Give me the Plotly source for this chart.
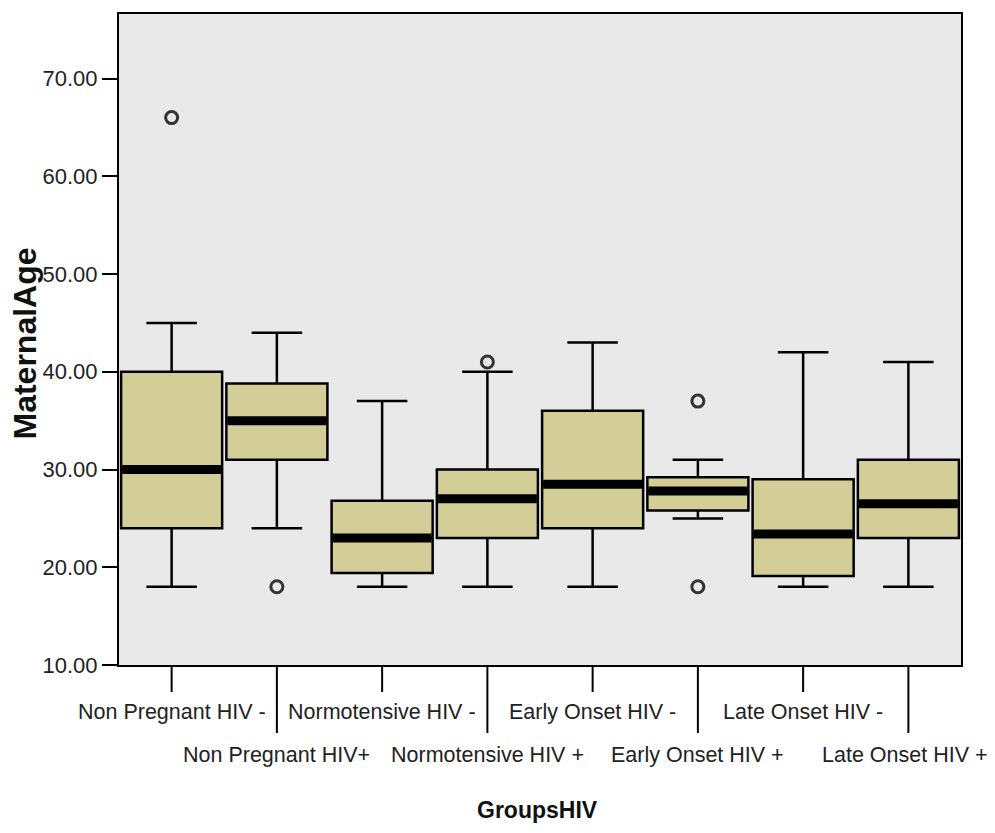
import plotly.graph_objects as go

# Maternal age by group (box statistics)
groups = [
    "Non Pregnant HIV -", "Non Pregnant HIV+",
    "Normotensive HIV -", "Normotensive HIV +",
    "Early Onset HIV -", "Early Onset HIV +",
    "Late Onset HIV -", "Late Onset HIV +",
]
lower_whisker = [18.0, 24.0, 18.0, 18.0, 18.0, 25.0, 18.0, 18.0]
q1_values     = [24.0, 31.0, 19.4, 23.0, 24.0, 25.8, 19.1, 23.0]
median_values = [30.0, 35.0, 23.0, 27.0, 28.5, 27.8, 23.4, 26.5]
q3_values     = [40.0, 38.8, 26.8, 30.0, 36.0, 29.2, 29.0, 31.0]
upper_whisker = [45.0, 44.0, 37.0, 40.0, 43.0, 31.0, 42.0, 41.0]

# Outlying cases
outlier_groups = ["Non Pregnant HIV -", "Non Pregnant HIV+", "Normotensive HIV +",
                  "Early Onset HIV +", "Early Onset HIV +"]
outlier_values = [66.0, 18.0, 41.0, 37.0, 18.0]

y_ticks = [10, 20, 30, 40, 50, 60, 70]

FONT = "Liberation Sans, Arial, sans-serif"
BOX_FILL = "#d3ce98"
PLOT_BG = "#e9e9e9"
BOX_WIDTH = 0.96

fig = go.Figure()

fig.add_trace(go.Box(
    x=groups,
    q1=q1_values, median=median_values, q3=q3_values,
    lowerfence=lower_whisker, upperfence=upper_whisker,
    width=BOX_WIDTH,
    fillcolor=BOX_FILL,
    line=dict(color="black", width=2.5),
    whiskerwidth=0.5,
    boxpoints=False,
    hoverinfo="skip",
    showlegend=False,
))

# Heavy median bar drawn as a flat box at each median
fig.add_trace(go.Box(
    x=groups,
    q1=median_values, median=median_values, q3=median_values,
    lowerfence=median_values, upperfence=median_values,
    width=BOX_WIDTH - 0.02,
    fillcolor="rgba(0,0,0,0)",
    line=dict(color="black", width=9),
    whiskerwidth=0,
    boxpoints=False,
    hoverinfo="skip",
    showlegend=False,
))

fig.add_trace(go.Scatter(
    x=outlier_groups, y=outlier_values,
    mode="markers",
    marker=dict(symbol="circle-open", size=12, color="#333333",
                line=dict(width=3, color="#333333")),
    hoverinfo="skip",
    showlegend=False,
))

# Staggered category labels with short/long tick marks
shapes = []
annotations = []
for i, g in enumerate(groups):
    lower_row = i % 2 == 1
    shapes.append(dict(
        type="line", xref="x", yref="paper",
        x0=g, x1=g, ysizemode="pixel", yanchor=0,
        y0=0, y1=-68 if lower_row else -27,
        line=dict(color="black", width=2),
    ))
    annotations.append(dict(
        text=g, xref="x", yref="paper", x=g, y=0,
        xanchor="center", yanchor="middle",
        yshift=-90 if lower_row else -47,
        xshift=-3 if i == len(groups) - 1 else 0,
        showarrow=False,
        font=dict(family=FONT, size=21.5, color="#222222"),
    ))

annotations.append(dict(
    text="<b>GroupsHIV</b>", xref="paper", yref="paper", x=0.5, y=0,
    xanchor="center", yanchor="middle", yshift=-145, xshift=-3,
    showarrow=False, font=dict(family=FONT, size=23, color="#111111"),
))
annotations.append(dict(
    text="<b>MaternalAge</b>", xref="paper", yref="paper", x=0, y=0.5,
    xanchor="center", yanchor="middle", xshift=-95, yshift=-4,
    textangle=-90, showarrow=False,
    font=dict(family=FONT, size=32, color="#111111"),
))

fig.update_layout(
    width=995, height=833,
    margin=dict(l=119, r=34, t=12, b=168),
    paper_bgcolor="white",
    plot_bgcolor=PLOT_BG,
    shapes=shapes,
    annotations=annotations,
    xaxis=dict(
        type="category",
        categoryorder="array", categoryarray=groups,
        range=[-0.5, len(groups) - 0.5],
        showticklabels=False, ticks="",
        showline=True, linecolor="black", linewidth=2, mirror=True,
        showgrid=False, zeroline=False,
    ),
    yaxis=dict(
        range=[10, 76.6],
        tickvals=y_ticks, tickformat=".2f",
        ticks="outside", ticklen=15, tickwidth=2, tickcolor="black",
        tickfont=dict(family=FONT, size=22, color="#222222"),
        showline=True, linecolor="black", linewidth=2, mirror=True,
        showgrid=False, zeroline=False,
    ),
)

fig.write_html("out.html")
